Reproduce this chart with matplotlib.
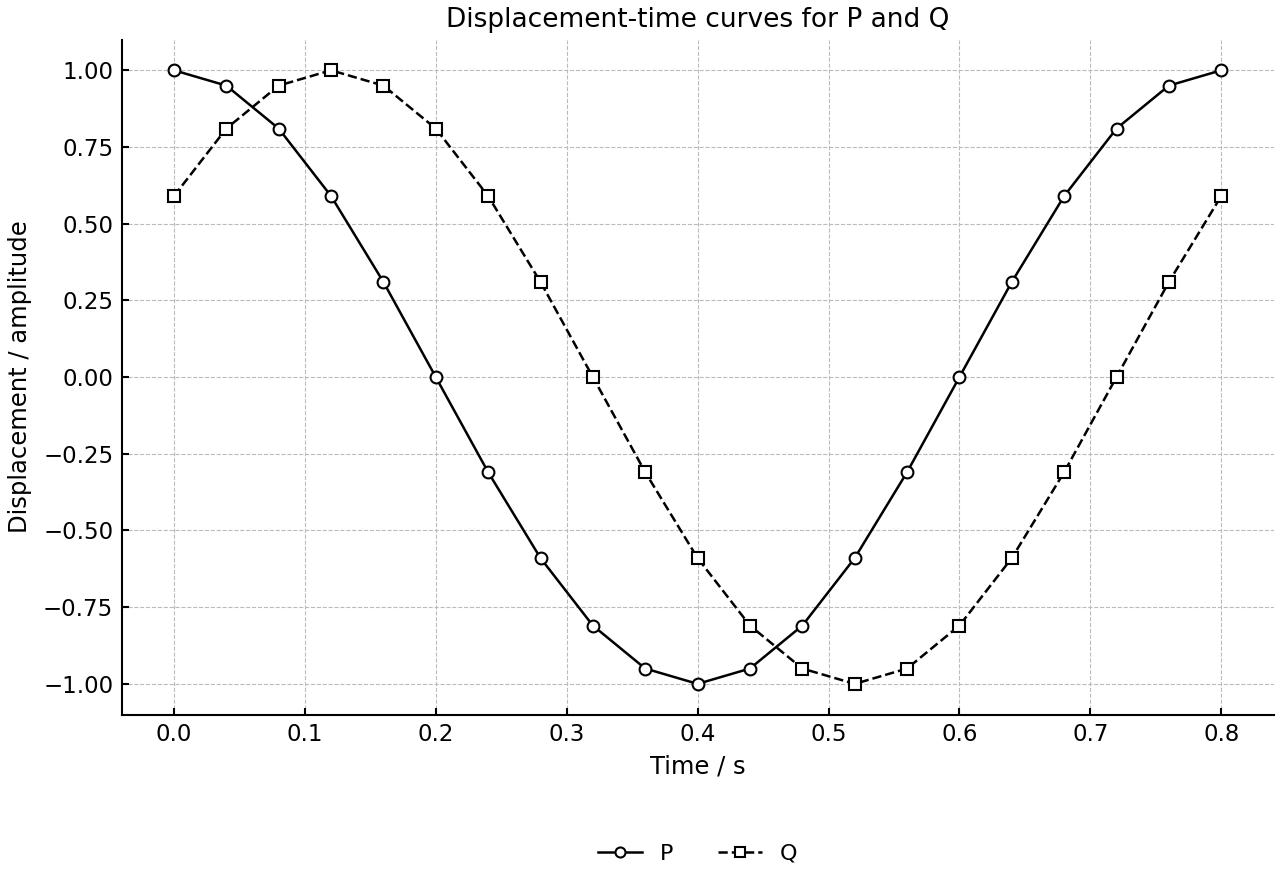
import matplotlib
matplotlib.use("Agg")
from matplotlib import pyplot as plt

time_s = [0.00, 0.04, 0.08, 0.12, 0.16, 0.20, 0.24, 0.28, 0.32, 0.36, 0.40,
          0.44, 0.48, 0.52, 0.56, 0.60, 0.64, 0.68, 0.72, 0.76, 0.80]
disp_P = [1.00, 0.95, 0.81, 0.59, 0.31, 0.00, -0.31, -0.59, -0.81, -0.95, -1.00,
          -0.95, -0.81, -0.59, -0.31, 0.00, 0.31, 0.59, 0.81, 0.95, 1.00]
disp_Q = [0.59, 0.81, 0.95, 1.00, 0.95, 0.81, 0.59, 0.31, 0.00, -0.31, -0.59,
          -0.81, -0.95, -1.00, -0.95, -0.81, -0.59, -0.31, 0.00, 0.31, 0.59]

plt.rcParams['font.size'] = 16

fig, ax = plt.subplots(figsize=(12.8, 8.8), dpi=100)
fig.subplots_adjust(left=0.095, right=0.995, top=0.955, bottom=0.188)

ax.plot(time_s, disp_P, color='black', linestyle='-', linewidth=1.8,
        marker='o', markersize=8.5, markerfacecolor='white', markeredgewidth=1.5, label='P')
ax.plot(time_s, disp_Q, color='black', linestyle='--', linewidth=1.8,
        marker='s', markersize=8.5, markerfacecolor='white', markeredgewidth=1.5, label='Q')

ax.set_title('Displacement-time curves for P and Q', fontsize=19, pad=9)
ax.set_xlabel('Time / s', fontsize=17.5, labelpad=6)
ax.set_ylabel('Displacement / amplitude', fontsize=17.5, labelpad=8)

ax.grid(True, linestyle='--', color='#bbbbbb', linewidth=0.8)
ax.spines['top'].set_visible(False)
ax.spines['right'].set_visible(False)
ax.spines['left'].set_linewidth(1.5)
ax.spines['bottom'].set_linewidth(1.5)
ax.tick_params(direction='in', length=5, width=1.5, pad=6, labelsize=16.5)

ax.legend(loc='center', ncol=2, frameon=False, bbox_to_anchor=(0.5, -0.206),
          handlelength=2.0, columnspacing=2.0, markerscale=0.85)

fig.savefig('out.png', dpi=100)
